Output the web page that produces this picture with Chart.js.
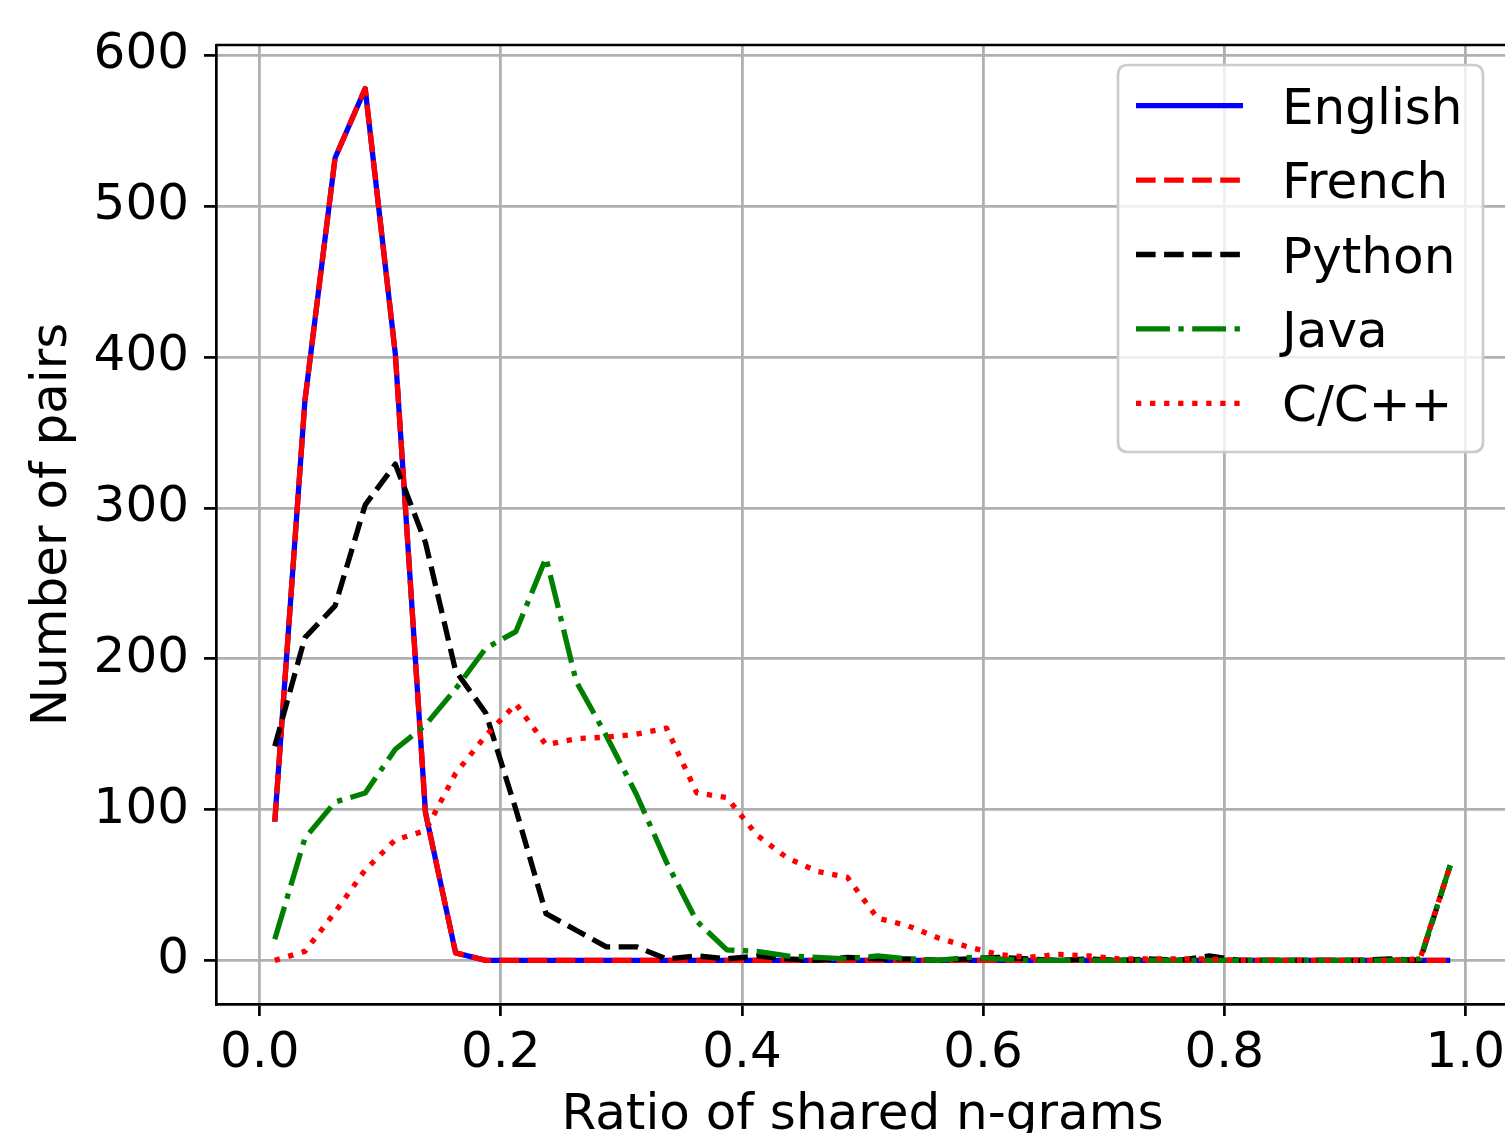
<!DOCTYPE html>
<html>
<head>
<meta charset="utf-8">
<script src="https://cdn.jsdelivr.net/npm/chart.js@4.4.0/dist/chart.umd.min.js"></script>
<style>
html, body { margin: 0; padding: 0; background: #ffffff; overflow: hidden; }
#wrap { position: relative; width: 1505px; height: 1133px; overflow: hidden; background: #ffffff; }
#c { position: absolute; left: 0; top: 0; }
</style>
</head>
<body>
<div id="wrap"><canvas id="c" width="1560" height="1160"></canvas></div>
<script>
// ---- data ----
const ratioBins = [0.0125, 0.0375, 0.0625, 0.0875, 0.1125, 0.1375, 0.1625, 0.1875, 0.2125, 0.2375,
                   0.2625, 0.2875, 0.3125, 0.3375, 0.3625, 0.3875, 0.4125, 0.4375, 0.4625, 0.4875,
                   0.5125, 0.5375, 0.5625, 0.5875, 0.6125, 0.6375, 0.6625, 0.6875, 0.7125, 0.7375,
                   0.7625, 0.7875, 0.8125, 0.8375, 0.8625, 0.8875, 0.9125, 0.9375, 0.9625, 0.9875];
const englishPairs = [92, 371, 532, 578, 402, 98, 5, 0, 0, 0,
                      0, 0, 0, 0, 0, 0, 0, 0, 0, 0,
                      0, 0, 0, 0, 0, 0, 0, 0, 0, 0,
                      0, 0, 0, 0, 0, 0, 0, 0, 0, 0];
const frenchPairs  = [92, 371, 532, 578, 402, 98, 5, 0, 0, 0,
                      0, 0, 0, 0, 0, 0, 0, 0, 0, 0,
                      0, 0, 0, 0, 0, 0, 0, 0, 0, 0,
                      0, 0, 0, 0, 0, 0, 0, 0, 0, 0];
const pythonPairs  = [142, 214, 235, 302, 329, 277, 192, 164, 100, 31,
                      20, 9, 9, 1, 3, 1, 3, 1, 0, 2,
                      1, 1, 0, 1, 2, 1, 0, 1, 0, 1,
                      0, 3, 0, 0, 0, 0, 0, 1, 0, 63];
const javaPairs    = [14, 81, 105, 111, 140, 156, 180, 207, 218, 267,
                      185, 149, 110, 65, 26, 7, 6, 3, 2, 1,
                      3, 1, 0, 2, 1, 0, 0, 0, 0, 0,
                      0, 0, 0, 0, 0, 0, 0, 0, 1, 63];
const cppPairs     = [0, 6, 32, 60, 80, 86, 124, 149, 170, 143,
                      147, 148, 150, 154, 111, 108, 83, 68, 59, 55,
                      28, 23, 15, 9, 4, 2, 4, 3, 1, 1,
                      1, 1, 0, 0, 0, 0, 0, 0, 1, 63];
const seriesNames = ['English', 'French', 'Python', 'Java', 'C/C++'];
const xTickValues = [0.0, 0.2, 0.4, 0.6, 0.8, 1.0];
const yTickValues = [0, 100, 200, 300, 400, 500, 600];

// ---- styling ----
const LW = 5.3;
const FONT = 'DejaVu Sans';
const FS = 50;
const styles = [
  { color: '#0000ff', dash: [] },
  { color: '#ff0000', dash: [3.7 * LW, 1.6 * LW] },
  { color: '#000000', dash: [3.7 * LW, 1.6 * LW] },
  { color: '#008000', dash: [6.4 * LW, 1.6 * LW, 1.0 * LW, 1.6 * LW] },
  { color: '#ff0000', dash: [1.0 * LW, 1.65 * LW] }
];
const seriesValues = [englishPairs, frenchPairs, pythonPairs, javaPairs, cppPairs];

const datasets = seriesValues.map((vals, i) => ({
  label: seriesNames[i],
  data: ratioBins.map((x, j) => ({ x: x, y: vals[j] })),
  borderColor: styles[i].color,
  backgroundColor: styles[i].color,
  borderDash: styles[i].dash,
  borderWidth: LW,
  borderCapStyle: 'butt',
  borderJoinStyle: 'round',
  pointRadius: 0,
  tension: 0,
  fill: false,
  order: 5 - i
}));

const framePlugin = {
  id: 'frame',
  afterDatasetsDraw(chart) {
    const { ctx, chartArea: a } = chart;
    ctx.save();
    ctx.strokeStyle = '#000000';
    ctx.lineWidth = 2.7;
    ctx.beginPath();
    ctx.moveTo(a.left, a.top);
    ctx.lineTo(a.right, a.top);
    ctx.lineTo(a.right, a.bottom);
    ctx.stroke();
    ctx.restore();
  }
};

const legendPlugin = {
  id: 'mplLegend',
  afterDraw(chart) {
    const ctx = chart.ctx;
    const bx = 1118, by = 65, bw = 365, bh = 387, r = 10;
    ctx.save();
    ctx.beginPath();
    ctx.moveTo(bx + r, by);
    ctx.lineTo(bx + bw - r, by);
    ctx.quadraticCurveTo(bx + bw, by, bx + bw, by + r);
    ctx.lineTo(bx + bw, by + bh - r);
    ctx.quadraticCurveTo(bx + bw, by + bh, bx + bw - r, by + bh);
    ctx.lineTo(bx + r, by + bh);
    ctx.quadraticCurveTo(bx, by + bh, bx, by + bh - r);
    ctx.lineTo(bx, by + r);
    ctx.quadraticCurveTo(bx, by, bx + r, by);
    ctx.closePath();
    ctx.fillStyle = 'rgba(255,255,255,0.8)';
    ctx.fill();
    ctx.strokeStyle = '#cccccc';
    ctx.lineWidth = 2.7;
    ctx.stroke();

    chart.data.datasets.forEach((ds, i) => {
      const y = 105.7 + i * 74.4;
      ctx.beginPath();
      ctx.setLineDash(ds.borderDash);
      ctx.lineDashOffset = 0;
      ctx.lineCap = 'butt';
      ctx.strokeStyle = ds.borderColor;
      ctx.lineWidth = LW;
      ctx.moveTo(1136, y);
      ctx.lineTo(1243, y);
      ctx.stroke();
      ctx.setLineDash([]);
      ctx.fillStyle = '#000000';
      ctx.font = FS + 'px "' + FONT + '"';
      ctx.textAlign = 'left';
      ctx.textBaseline = 'alphabetic';
      ctx.fillText(ds.label, 1282, y + 18);
    });
    ctx.restore();
  }
};

const tickFont = { family: FONT, size: FS };

new Chart(document.getElementById('c').getContext('2d'), {
  type: 'line',
  data: { datasets: datasets },
  options: {
    responsive: false,
    animation: false,
    devicePixelRatio: 1,
    layout: { padding: { left: 0, top: 40, right: 51, bottom: 0 } },
    plugins: { legend: { display: false }, tooltip: { enabled: false } },
    scales: {
      x: {
        type: 'linear',
        min: -0.03625,
        max: 1.03625,
        afterBuildTicks: (s) => { s.ticks = xTickValues.map(v => ({ value: v })); },
        afterFit: (s) => { s.height = 156; },
        ticks: {
          callback: (v) => Number(v).toFixed(1),
          font: tickFont, color: '#000000', padding: 8,
          maxRotation: 0, minRotation: 0, autoSkip: false
        },
        grid: { color: '#b0b0b0', lineWidth: 2.8, tickColor: '#000000', tickLength: 12, tickWidth: 2.7 },
        border: { display: true, color: '#000000', width: 2.7 },
        title: {
          display: true, text: 'Ratio of shared n-grams',
          font: tickFont, color: '#000000', padding: { top: 0, bottom: 14 }
        }
      },
      y: {
        type: 'linear',
        min: -28.9,
        max: 606.9,
        afterBuildTicks: (s) => { s.ticks = yTickValues.map(v => ({ value: v })); },
        afterFit: (s) => { s.width = 216; },
        ticks: {
          callback: (v) => String(v),
          font: tickFont, color: '#000000', padding: 15, autoSkip: false
        },
        grid: { color: '#b0b0b0', lineWidth: 2.8, tickColor: '#000000', tickLength: 12, tickWidth: 2.7 },
        border: { display: true, color: '#000000', width: 2.7 },
        title: {
          display: true, text: 'Number of pairs',
          font: tickFont, color: '#000000', padding: { top: 23.5, bottom: 0 }
        }
      }
    }
  },
  plugins: [framePlugin, legendPlugin]
});
</script>
</body>
</html>
